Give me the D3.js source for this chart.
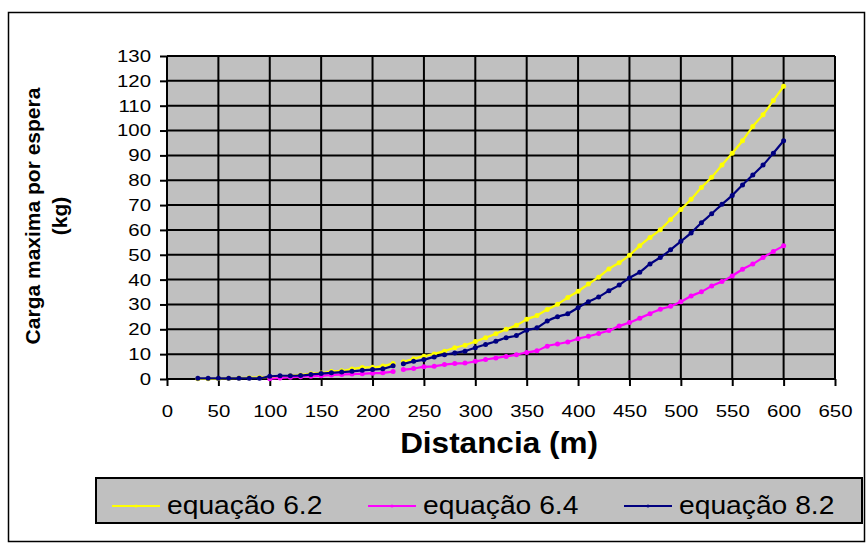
<!DOCTYPE html>
<html>
<head>
<meta charset="utf-8">
<script src="https://cdn.jsdelivr.net/npm/d3@7"></script>
<style>
  body { margin: 0; background: #fff; }
  text { font-family: "Liberation Sans", Arial, sans-serif; fill: #000; }
</style>
</head>
<body>
<div id="chart"></div>
<script>
// Distances (m) and the three series (kg)
const distances = [30, 40, 50, 60, 70, 80, 90, 100, 110, 120, 130, 140, 150, 160, 170, 180, 190, 200, 210, 220,
  230, 240, 250, 260, 270, 280, 290, 300, 310, 320, 330, 340, 350, 360, 370, 380, 390, 400, 410, 420,
  430, 440, 450, 460, 470, 480, 490, 500, 510, 520, 530, 540, 550, 560, 570, 580, 590, 600];

const eq62 = [0.1, 0.1, 0.2, 0.3, 0.4, 0.5, 0.6, 0.8, 1.0, 1.3, 1.6, 2.1, 2.4, 3.0, 3.3, 4.0, 4.6, 4.7, 5.2, 6.2,
  6.9, 8.1, 9.2, 10.1, 11.2, 12.6, 13.6, 15.1, 16.6, 18.2, 20.0, 21.6, 24.0, 25.6, 28.0, 30.1, 32.8, 35.3, 38.2, 41.0,
  44.3, 46.8, 49.8, 53.6, 57.0, 60.1, 64.2, 68.2, 72.3, 77.1, 81.2, 86.1, 90.9, 95.9, 101.6, 106.4, 112.1, 117.8];

const eq64 = [null, null, null, null, null, null, null, 0.1, 0.4, 0.7, 0.9, 1.1, 1.3, 1.6, 1.8, 2.0, 2.1, 2.3, 2.5, 3.0,
  3.8, 4.2, 4.9, 5.1, 5.8, 6.2, 6.4, 7.1, 7.8, 8.5, 9.1, 9.8, 10.7, 11.4, 13.2, 14.1, 14.9, 16.2, 17.2, 18.3,
  19.5, 21.3, 22.7, 24.5, 26.3, 28.1, 29.3, 31.1, 33.4, 35.1, 37.4, 39.2, 41.5, 44.2, 46.3, 48.9, 51.3, 53.6];

const eq82 = [0.3, 0.3, 0.3, 0.3, 0.3, 0.3, 0.3, 1.1, 1.3, 1.3, 1.4, 1.8, 2.2, 2.5, 2.8, 3.1, 3.5, 3.8, 4.1, 5.3,
  6.1, 7.1, 7.8, 8.9, 9.8, 10.5, 11.2, 12.6, 13.9, 15.2, 16.6, 17.5, 19.6, 20.6, 23.3, 25.1, 26.3, 28.7, 31.1, 33.0,
  35.5, 37.8, 40.7, 43.0, 46.3, 48.9, 52.0, 55.4, 58.8, 62.9, 66.5, 70.3, 73.9, 78.1, 82.1, 86.1, 90.9, 95.9];

const seriesNames = ["equação 6.2", "equação 6.4", "equação 8.2"];
const seriesColors = ["#FFFF00", "#FF00FF", "#000080"];
const xTicks = [0, 50, 100, 150, 200, 250, 300, 350, 400, 450, 500, 550, 600, 650];
const yTicks = [0, 10, 20, 30, 40, 50, 60, 70, 80, 90, 100, 110, 120, 130];
const segmentBreak = 225; // lines are not joined between 220 and 230

const W = 868, H = 543;
const plot = { left: 167, right: 835, top: 56, bottom: 379 };
const sx = 1.2; // horizontal text stretch of the original tick labels

const svg = d3.select("#chart").append("svg")
    .attr("width", W)
    .attr("height", H);

// outer chart border
svg.append("rect")
    .attr("x", 8.5).attr("y", 12.5)
    .attr("width", 856).attr("height", 529)
    .attr("fill", "#fff")
    .attr("stroke", "#000")
    .attr("stroke-width", 1.5);

const x = d3.scaleLinear().domain([0, 650]).range([plot.left, plot.right]);
const y = d3.scaleLinear().domain([0, 130]).range([plot.bottom, plot.top]);

// plot area
svg.append("rect")
    .attr("x", plot.left).attr("y", plot.top)
    .attr("width", plot.right - plot.left)
    .attr("height", plot.bottom - plot.top)
    .attr("fill", "#C0C0C0");

// gridlines
svg.append("g").selectAll("line").data(yTicks).join("line")
    .attr("x1", plot.left).attr("x2", plot.right)
    .attr("y1", d => y(d)).attr("y2", d => y(d))
    .attr("stroke", "#000").attr("stroke-width", 2);
svg.append("g").selectAll("line").data(xTicks).join("line")
    .attr("y1", plot.top).attr("y2", plot.bottom)
    .attr("x1", d => x(d)).attr("x2", d => x(d))
    .attr("stroke", "#000").attr("stroke-width", 2);

// axes
const yAxis = svg.append("g")
    .attr("transform", `translate(${plot.left},0)`)
    .call(d3.axisLeft(y).tickValues(yTicks).tickSize(7).tickFormat(d3.format("d")));
const xAxis = svg.append("g")
    .attr("transform", `translate(0,${plot.bottom})`)
    .call(d3.axisBottom(x).tickValues(xTicks).tickSize(7).tickFormat(d3.format("d")));

[xAxis, yAxis].forEach(a => {
    a.select(".domain").remove();
    a.selectAll(".tick line").attr("stroke", "#000").attr("stroke-width", 2);
    a.selectAll("text").style("font-size", "17px").attr("transform", `scale(${sx},1)`);
});
yAxis.selectAll("text").attr("x", -16 / sx);
xAxis.selectAll("text").attr("y", 26);

// series
const allSeries = [eq62, eq64, eq82].map((vals, i) => ({
    name: seriesNames[i],
    color: seriesColors[i],
    points: distances.map((d, j) => ({ x: d, v: vals[j] })).filter(p => p.v !== null)
}));

const line = d3.line()
    .x(d => x(d.x))
    .y(d => y(d.v))
    .curve(d3.curveMonotoneX);

allSeries.forEach(s => {
    const g = svg.append("g");
    const segments = [
        s.points.filter(p => p.x < segmentBreak),
        s.points.filter(p => p.x > segmentBreak)
    ];
    g.selectAll("path").data(segments).join("path")
        .attr("d", line)
        .attr("fill", "none")
        .attr("stroke", s.color)
        .attr("stroke-width", 2.2);
    g.selectAll("circle").data(s.points).join("circle")
        .attr("cx", d => x(d.x))
        .attr("cy", d => y(d.v))
        .attr("r", 2.5)
        .attr("fill", s.color);
});

// axis titles
svg.append("text")
    .attr("transform", `translate(499,453) scale(1.05,1)`)
    .attr("text-anchor", "middle")
    .style("font-size", "30px")
    .style("font-weight", "bold")
    .text("Distancia (m)");

const yTitle = svg.append("text")
    .attr("transform", "translate(40,216) rotate(-90)")
    .attr("text-anchor", "middle")
    .style("font-size", "21px")
    .style("font-weight", "bold");
yTitle.append("tspan").attr("x", 0).attr("y", 0).text("Carga maxima por espera");
yTitle.append("tspan").attr("x", 0).attr("y", 27).text("(kg)");

// legend
const legend = svg.append("g");
legend.append("rect")
    .attr("x", 96).attr("y", 478)
    .attr("width", 766).attr("height", 45)
    .attr("fill", "#C0C0C0")
    .attr("stroke", "#000")
    .attr("stroke-width", 2);

const legendX = [112, 368, 624];
allSeries.forEach((s, i) => {
    const item = legend.append("g").attr("transform", `translate(${legendX[i]},506)`);
    item.append("line")
        .attr("x1", 0).attr("x2", 48)
        .attr("stroke", s.color).attr("stroke-width", 2.2);
    item.append("circle").attr("cx", 24).attr("r", 1.5).attr("fill", s.color);
    item.append("text")
        .attr("transform", `translate(55,8) scale(1.13,1)`)
        .style("font-size", "25px")
        .text(s.name);
});
</script>
</body>
</html>
